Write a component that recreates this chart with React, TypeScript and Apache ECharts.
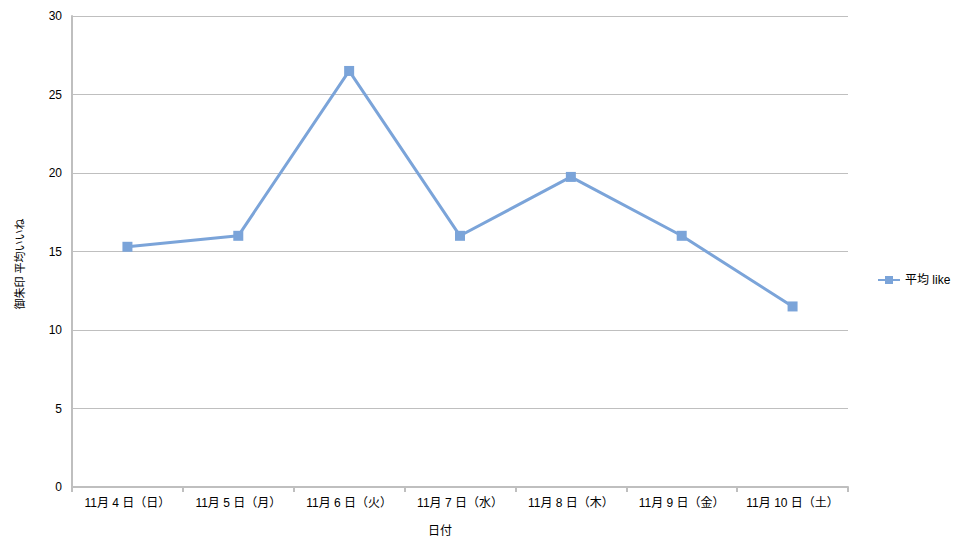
import React, { useEffect, useRef } from "react";
import * as echarts from "echarts";

const categories = ["11月 4 日（日）", "11月 5 日（月）", "11月 6 日（火）", "11月 7 日（水）", "11月 8 日（木）", "11月 9 日（金）", "11月 10 日（土）"];
const avgLike = [15.3, 16, 26.5, 16, 19.75, 16, 11.5];
const seriesName = "平均 like";
const yTitle = "御朱印 平均いいね";
const xTitle = "日付";

const FONT = '"Liberation Sans", Arial, "Noto Sans CJK JP", sans-serif';
const LINE = "#7ba4d9";

export default function App() {
  const ref = useRef<HTMLDivElement>(null);
  useEffect(() => {
    const chart = echarts.init(ref.current!, null, { renderer: "svg" });
    chart.setOption({
      animation: false,
      backgroundColor: "#ffffff",
      textStyle: { fontFamily: FONT },
      grid: { left: 72, right: 108, top: 16, bottom: 62 },
      legend: {
        left: 872,
        top: 269,
        orient: "vertical",
        itemWidth: 22,
        itemHeight: 10,
        itemGap: 6,
        textStyle: { fontFamily: FONT, fontSize: 12, color: "#000" },
        data: [{ name: seriesName }],
      },
      xAxis: {
        type: "category",
        data: categories,
        boundaryGap: true,
        axisLine: { lineStyle: { color: "#bfbfbf", width: 2 } },
        axisTick: { show: true, length: 5, interval: 0, lineStyle: { color: "#bfbfbf", width: 2 } },
        axisLabel: { color: "#000", fontSize: 12, margin: 10, interval: 0, hideOverlap: false, fontFamily: FONT },
      },
      yAxis: {
        type: "value",
        min: 0,
        max: 30,
        interval: 5,
        axisLine: { show: true, lineStyle: { color: "#bfbfbf", width: 2 } },
        axisTick: { show: false },
        splitLine: { lineStyle: { color: "#bfbfbf", width: 1 } },
        axisLabel: { color: "#000", fontSize: 12, margin: 10, fontFamily: FONT },
      },
      graphic: [
        {
          type: "text",
          x: 20,
          y: 264,
          rotation: Math.PI / 2,
          style: {
            text: yTitle,
            fontSize: 11,
            fontFamily: FONT,
            fill: "#000",
            align: "center",
            verticalAlign: "middle",
          },
        },
        {
          type: "text",
          x: 440,
          y: 531,
          style: {
            text: xTitle,
            fontSize: 12,
            fontFamily: FONT,
            fill: "#000",
            align: "center",
            verticalAlign: "middle",
          },
        },
      ],
      series: [
        {
          name: seriesName,
          type: "line",
          data: avgLike,
          symbol: "rect",
          symbolSize: 10,
          lineStyle: { color: LINE, width: 3 },
          itemStyle: { color: LINE },
        },
      ],
    });
    return () => chart.dispose();
  }, []);
  return <div ref={ref} style={{ width: 956, height: 549, position: "absolute", left: 0, top: 0 }} />;
}
